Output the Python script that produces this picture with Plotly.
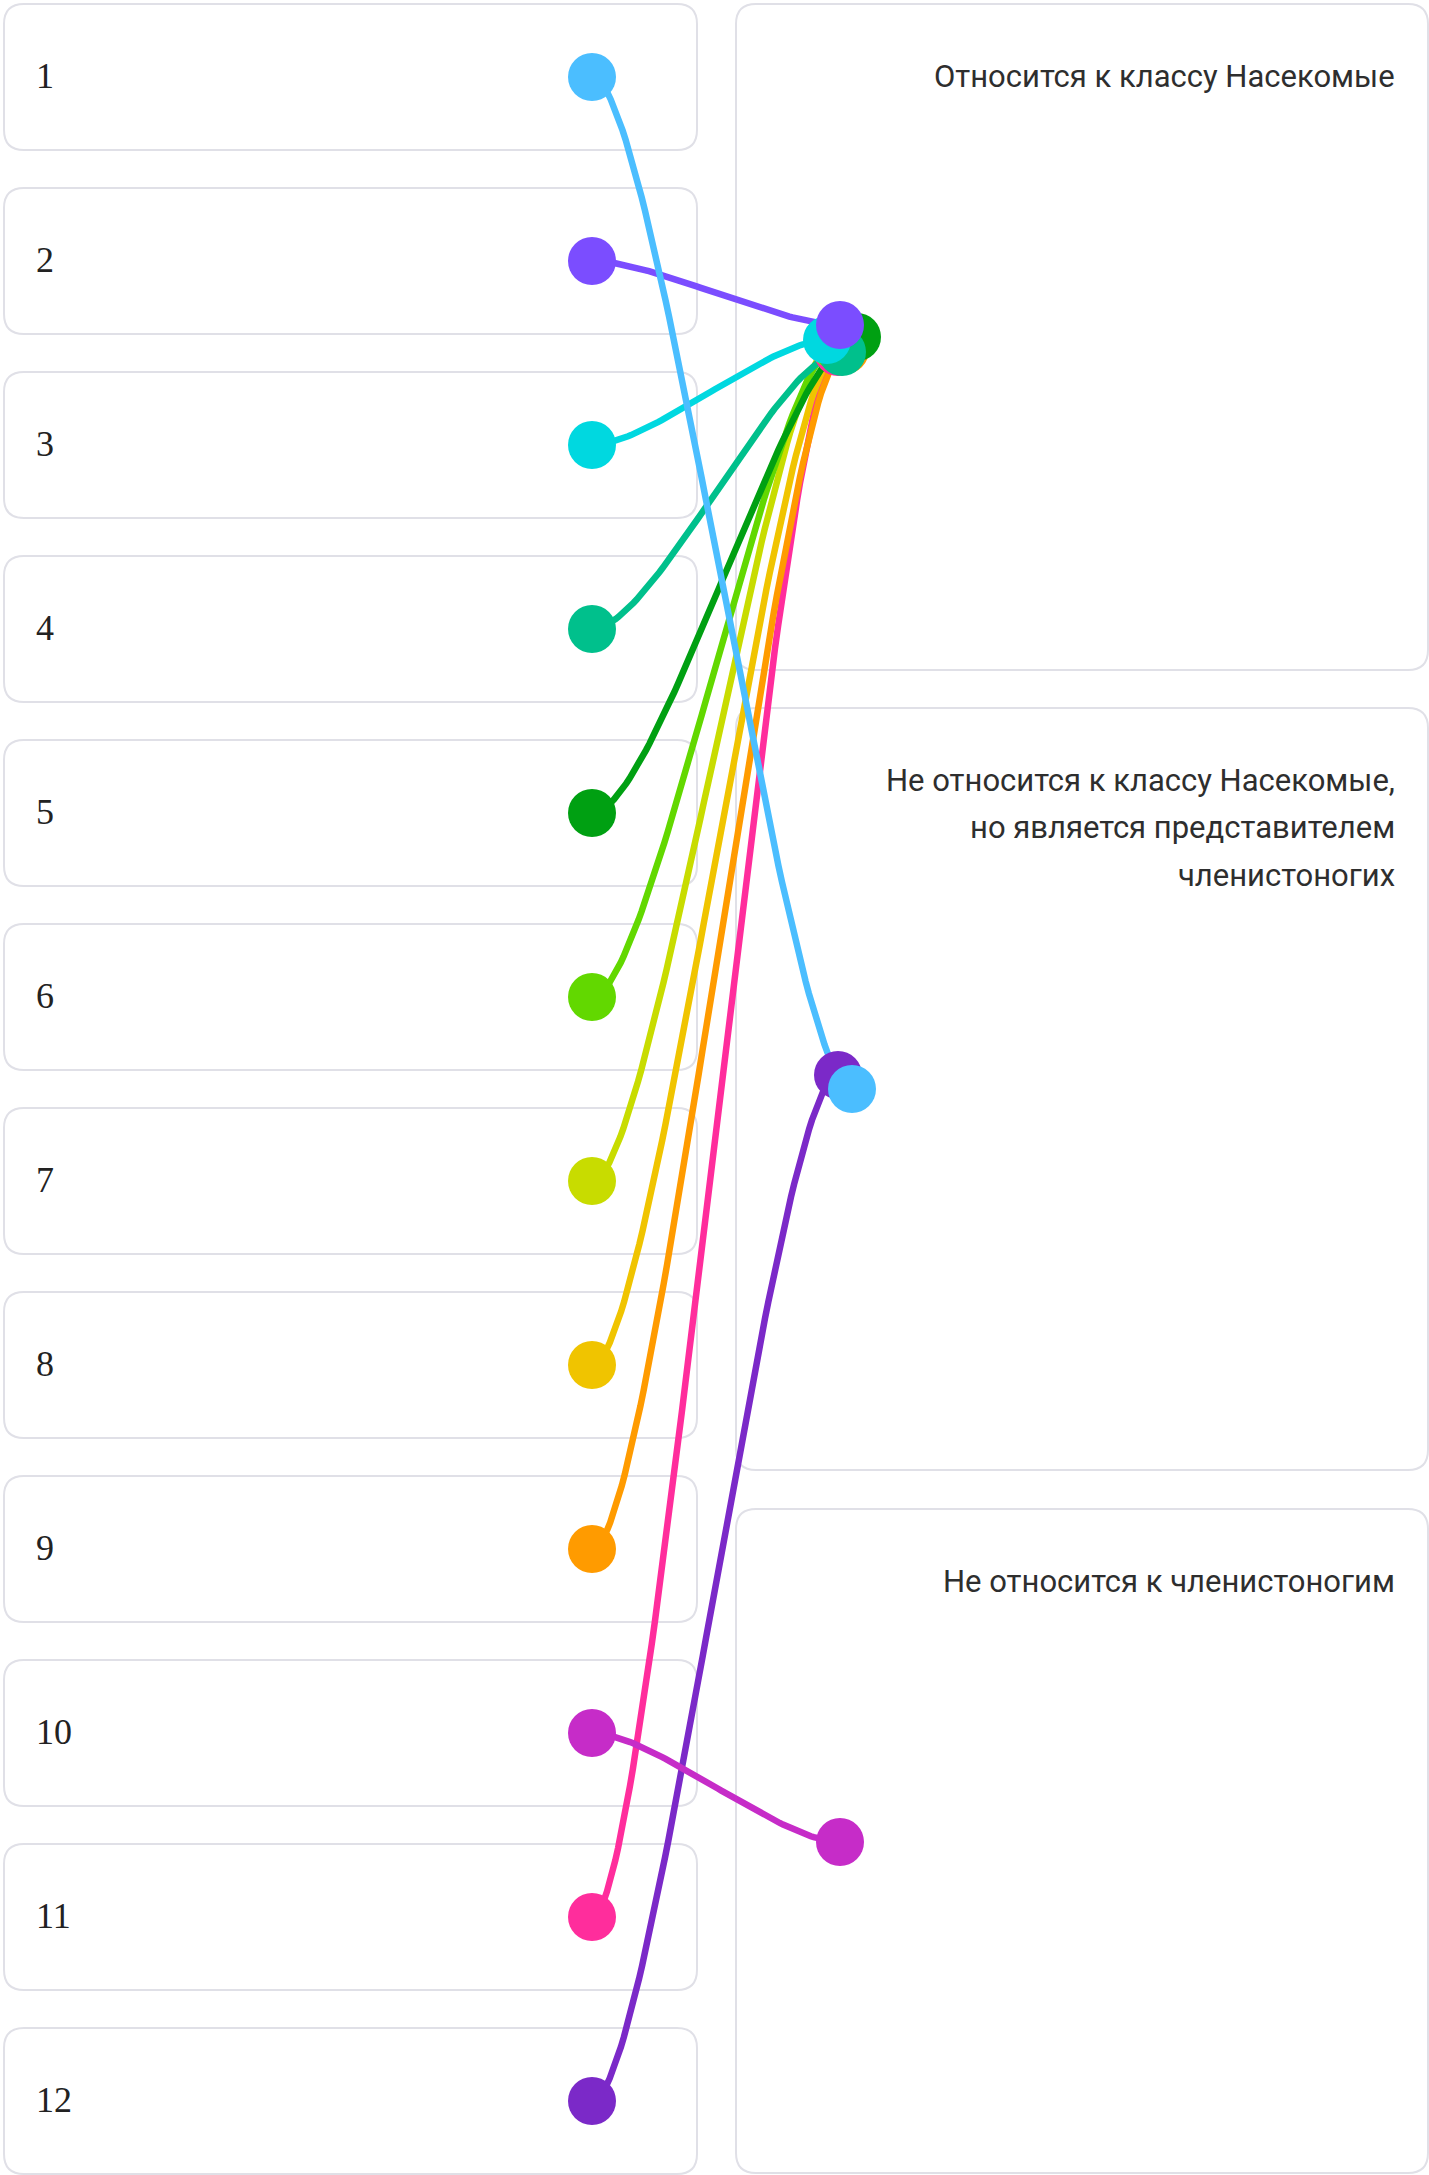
import numpy as np
import plotly.graph_objects as go

# ---- data ----
items = ["1", "2", "3", "4", "5", "6", "7", "8", "9", "10", "11", "12"]
categories = [
    "Относится к классу Насекомые",
    "Не относится к классу Насекомые,\nно является представителем\nчленистоногих",
    "Не относится к членистоногим",
]
# category index chosen for each item
assignment = [1, 0, 0, 0, 0, 0, 0, 0, 0, 2, 0, 1]
colors = ["#4BBEFF", "#7B4DFF", "#00D8E0", "#00C08C", "#00A012", "#62D800",
          "#C8DC00", "#F0C400", "#FF9B00", "#C62CC8", "#FF2D9C", "#7B29C8"]

# ---- layout constants (pixels) ----
W, H = 1429, 2175
L_X0, L_X1 = 4, 697
L_TOP, L_H, L_PITCH = 4, 146, 184
R_X0, R_X1 = 736, 1428
R_BOXES = [(4, 670), (708, 1470), (1509, 2173)]
DOT_LX = 592
DOT_RX = 840
# small offsets of the end dots inside their target box
jit_x = [12, 0, -13, 2, 17, -4, -7, 0, 5, 0, -2, -2]
jit_y = [0, -12, 3, 15, 0, 9, 7, 11, 13, 1, 15, -14]

fig = go.Figure()


def rrect(x0, y0, x1, y1, r=20):
    return (f"M{x0+r},{y0} L{x1-r},{y0} Q{x1},{y0} {x1},{y0+r} "
            f"L{x1},{y1-r} Q{x1},{y1} {x1-r},{y1} L{x0+r},{y1} "
            f"Q{x0},{y1} {x0},{y1-r} L{x0},{y0+r} Q{x0},{y0} {x0+r},{y0} Z")


shapes = []
annotations = []
for i, lab in enumerate(items):
    y0 = L_TOP + i * L_PITCH
    shapes.append(dict(type="path", path=rrect(L_X0, y0, L_X1, y0 + L_H),
                       line=dict(color="#E0E0E7", width=2), fillcolor="rgba(0,0,0,0)",
                       layer="below", xref="x", yref="y"))
    annotations.append(dict(x=34, y=y0 + L_H / 2 - 1, text=lab, showarrow=False,
                            xanchor="left", yanchor="middle", xref="x", yref="y",
                            font=dict(family="Liberation Serif", size=36, color="#222222")))

for c, (t, b) in zip(categories, R_BOXES):
    shapes.append(dict(type="path", path=rrect(R_X0, t, R_X1, b),
                       line=dict(color="#E0E0E7", width=2), fillcolor="rgba(0,0,0,0)",
                       layer="below", xref="x", yref="y"))
    for k, line in enumerate(c.split("\n")):
        annotations.append(dict(x=1397, y=t + 72 + k * 47.5, text=line, showarrow=False,
                                xanchor="right", yanchor="middle", xref="x", yref="y",
                                font=dict(family="Roboto", size=31, color="#2E2E2E")))


def bezier(x0, y0, x1, y1, c=0.25, n=80):
    t = np.linspace(0, 1, n)
    p1x, p1y = x0 + c * (x1 - x0), y0
    p2x, p2y = x1 - c * (x1 - x0), y1
    bx = (1 - t) ** 3 * x0 + 3 * (1 - t) ** 2 * t * p1x + 3 * (1 - t) * t ** 2 * p2x + t ** 3 * x1
    by = (1 - t) ** 3 * y0 + 3 * (1 - t) ** 2 * t * p1y + 3 * (1 - t) * t ** 2 * p2y + t ** 3 * y1
    return bx, by


ends = []
for i in range(len(items)):
    ly = L_TOP + i * L_PITCH + L_H / 2
    t, b = R_BOXES[assignment[i]]
    rx = DOT_RX + jit_x[i]
    ry = (t + b) / 2 + jit_y[i]
    ends.append((ly, rx, ry))

order = list(range(len(items)))[::-1]
for i in order:
    ly, rx, ry = ends[i]
    bx, by = bezier(DOT_LX, ly, rx, ry)
    fig.add_trace(go.Scatter(x=bx, y=by, mode="lines",
                             line=dict(color=colors[i], width=6.5),
                             hoverinfo="skip", showlegend=False))

for i in order:
    ly, rx, ry = ends[i]
    fig.add_trace(go.Scatter(x=[DOT_LX, rx], y=[ly, ry], mode="markers",
                             marker=dict(color=colors[i], size=48, line=dict(width=0)),
                             hoverinfo="skip", showlegend=False))

fig.update_layout(
    width=W, height=H, margin=dict(l=0, r=0, t=0, b=0),
    paper_bgcolor="white", plot_bgcolor="white",
    xaxis=dict(range=[0, W], visible=False, fixedrange=True),
    yaxis=dict(range=[H, 0], visible=False, fixedrange=True),
    shapes=shapes, annotations=annotations, showlegend=False,
)

fig.write_html("out.html", config={"displayModeBar": False},
               post_script="document.body.style.margin='0';document.body.style.overflow='hidden';")
